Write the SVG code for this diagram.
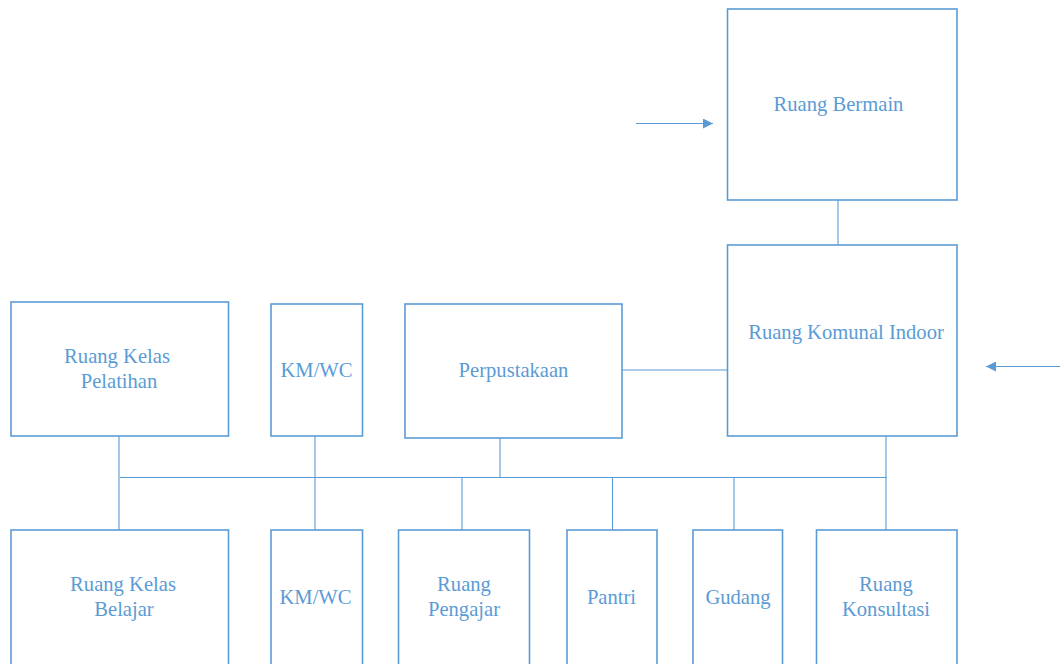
<svg xmlns="http://www.w3.org/2000/svg" width="1060" height="664" viewBox="0 0 1060 664">
  <style>
    .box { fill: #ffffff; stroke: #5B9BD5; stroke-width: 1.6; }
    .lbl { font-family: "Liberation Serif", "Times New Roman", serif; font-size: 20.6px; fill: #5B9BD5; text-anchor: middle; }
    .wire { stroke: #5B9BD5; stroke-width: 1.1; fill: none; }
  </style>
  <defs>
    <marker id="head" viewBox="0 0 10 10" refX="10" refY="5" markerWidth="10" markerHeight="10" markerUnits="userSpaceOnUse" orient="auto">
      <path d="M0,0 L10,5 L0,10 z" fill="#5B9BD5"/>
    </marker>
  </defs>
  <rect width="1060" height="664" fill="#ffffff"/>

  <!-- connectors -->
  <g id="connectors">
    <line class="wire" x1="838" y1="200" x2="838" y2="245"/>
    <line class="wire" x1="622" y1="370" x2="727" y2="370"/>
    <line class="wire" x1="120" y1="477.5" x2="886.5" y2="477.5"/>
    <line class="wire" x1="119" y1="436" x2="119" y2="530"/>
    <line class="wire" x1="315" y1="436" x2="315" y2="530"/>
    <line class="wire" x1="500" y1="438" x2="500" y2="477.5"/>
    <line class="wire" x1="886" y1="436" x2="886" y2="530"/>
    <line class="wire" x1="462" y1="477.5" x2="462" y2="530"/>
    <line class="wire" x1="612.5" y1="477.5" x2="612.5" y2="530"/>
    <line class="wire" x1="734" y1="477.5" x2="734" y2="530"/>
    <line class="wire" x1="636" y1="123.5" x2="713" y2="123.5" marker-end="url(#head)"/>
    <line class="wire" x1="1060" y1="366.5" x2="986" y2="366.5" marker-end="url(#head)"/>
  </g>

  <!-- upper area -->
  <g id="ruang-bermain">
    <rect class="box" x="727.5" y="9" width="229.5" height="191"/>
    <text class="lbl" x="838.5" y="111">Ruang Bermain</text>
  </g>
  <g id="ruang-komunal-indoor">
    <rect class="box" x="727.5" y="245" width="229.5" height="191"/>
    <text class="lbl" x="846" y="339">Ruang Komunal Indoor</text>
  </g>

  <!-- middle row -->
  <g id="ruang-kelas-pelatihan">
    <rect class="box" x="11" y="302" width="217.5" height="134"/>
    <text class="lbl" x="117" y="363">Ruang Kelas</text>
    <text class="lbl" x="119" y="388">Pelatihan</text>
  </g>
  <g id="kmwc-atas">
    <rect class="box" x="271" y="304" width="91.5" height="132"/>
    <text class="lbl" x="316.5" y="377">KM/WC</text>
  </g>
  <g id="perpustakaan">
    <rect class="box" x="405" y="304" width="217" height="134"/>
    <text class="lbl" x="513.5" y="377">Perpustakaan</text>
  </g>

  <!-- bottom row -->
  <g id="ruang-kelas-belajar">
    <rect class="box" x="11" y="530" width="217.5" height="140"/>
    <text class="lbl" x="123" y="591">Ruang Kelas</text>
    <text class="lbl" x="124" y="616">Belajar</text>
  </g>
  <g id="kmwc-bawah">
    <rect class="box" x="271" y="530" width="91.5" height="140"/>
    <text class="lbl" x="315.5" y="604">KM/WC</text>
  </g>
  <g id="ruang-pengajar">
    <rect class="box" x="398.5" y="530" width="131" height="140"/>
    <text class="lbl" x="464" y="591">Ruang</text>
    <text class="lbl" x="464" y="616">Pengajar</text>
  </g>
  <g id="pantri">
    <rect class="box" x="567" y="530" width="90" height="140"/>
    <text class="lbl" x="611.5" y="604">Pantri</text>
  </g>
  <g id="gudang">
    <rect class="box" x="693" y="530" width="89.5" height="140"/>
    <text class="lbl" x="738" y="604">Gudang</text>
  </g>
  <g id="ruang-konsultasi">
    <rect class="box" x="816.5" y="530" width="140.5" height="140"/>
    <text class="lbl" x="886" y="591">Ruang</text>
    <text class="lbl" x="886" y="616">Konsultasi</text>
  </g>
</svg>
